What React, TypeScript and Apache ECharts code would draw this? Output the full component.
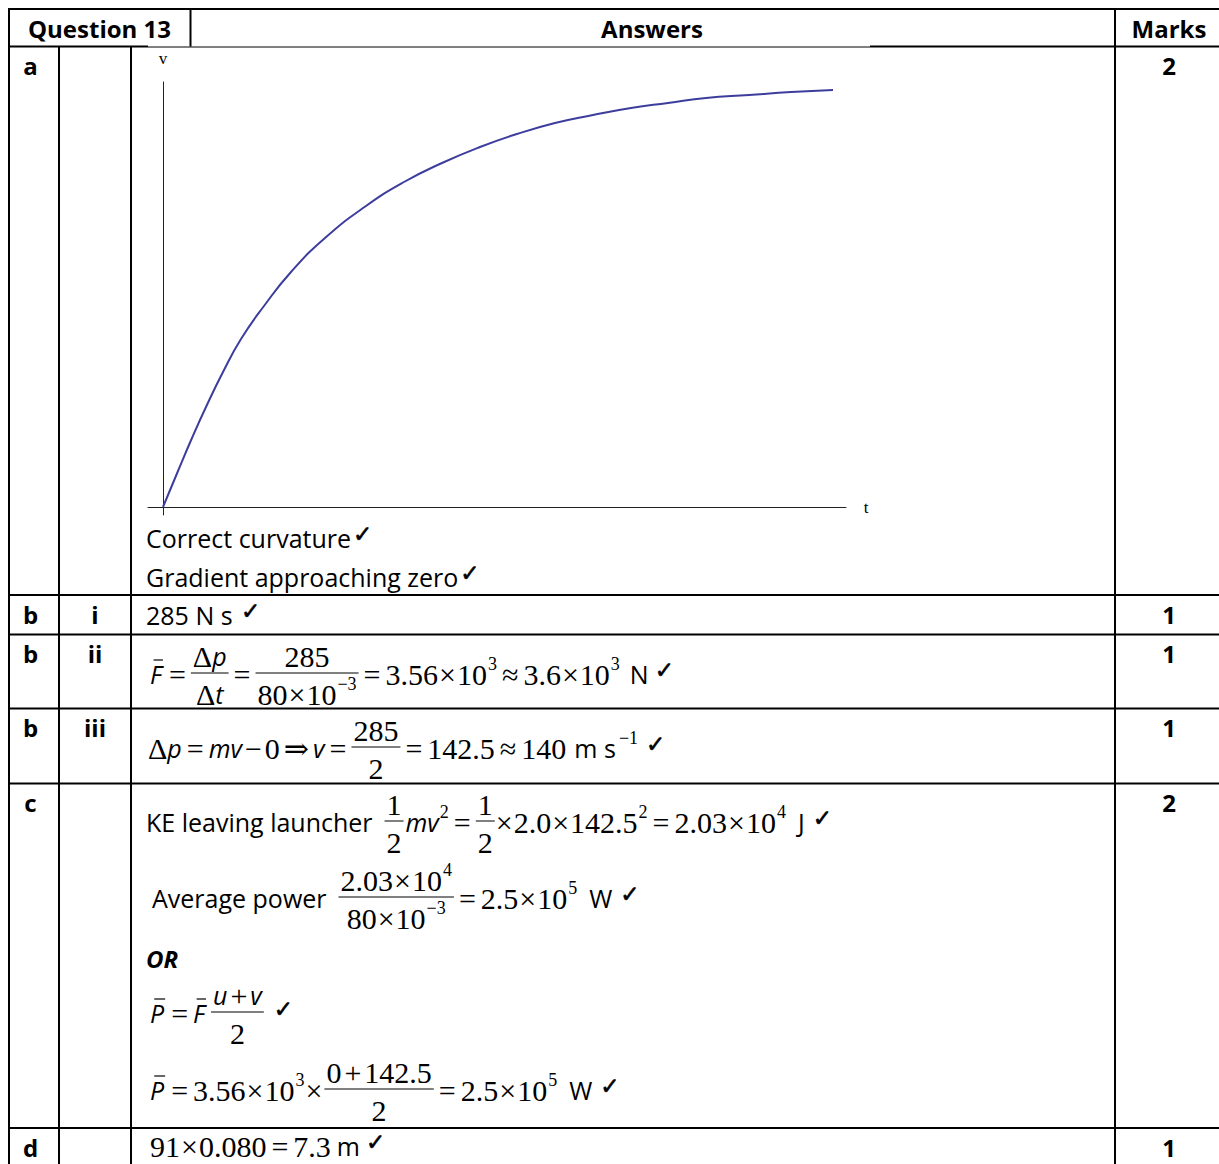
import React, { useEffect, useRef } from "react";
import * as echarts from "echarts";

// ---- data: v–t sketch ----
const tValues = [0, 1.5, 2.9, 4.3, 6.0, 7.8, 10.1, 12.8, 16.2, 20.3, 24.1, 27.9, 31.7, 35.4, 39.2, 43.0, 46.8, 50.5, 54.3, 58.6, 62.8, 67.0];
const vValues = [0, 3.6, 6.9, 10.0, 13.5, 16.8, 20.1, 23.5, 26.9, 30.1, 32.5, 34.4, 36.0, 37.3, 38.4, 39.2, 39.9, 40.4, 40.9, 41.2, 41.5, 41.7];
const axisNames = ["t", "v"];

// ---- table texts ----
const headers = ["Question 13", "Answers", "Marks"];
const partLabels = ["a", "b", "b", "b", "c", "d"];
const subLabels = ["", "i", "ii", "iii", "", ""];
const marks = ["2", "1", "1", "1", "2", "1"];
const rowTops = [46.5, 595, 634.5, 708.5, 783.5, 1128];
const plainLines = ["Correct curvature", "Gradient approaching zero", "285 N s "];

const SERIF = "'Liberation Serif','DejaVu Serif',serif";
const SANS = "'Open Sans',Lato,sans-serif";
const CHK = "'DejaVu Sans'";
const MS = 30;
const SUPS = 18;
const TS = 25;
const HS = 24;

type Tok =
  | { kind: "txt"; text: string; font: string; dy: number; gap: number; bar?: boolean; heavy?: boolean }
  | { kind: "frac"; num: Tok[]; den: Tok[]; gap: number; pad: number };

let ctx: CanvasRenderingContext2D | null = null;
function measure(text: string, font: string) {
  if (!ctx) ctx = document.createElement("canvas").getContext("2d");
  ctx!.font = font;
  return ctx!.measureText(text).width;
}

const SF = `${MS}px ${SERIF}`;
const OPS: Record<string, number> = { "=": 5, "≈": 5, "⇒": 4, "+": 3, "−": 3, "×": 1 };
// serif math run; operators get a little space around them
function S(text: string, gap = 0): Tok[] {
  const out: Tok[] = [];
  let buf = "";
  let bufGap = gap;
  const flush = () => {
    if (buf) out.push({ kind: "txt", text: buf, font: SF, dy: 0, gap: bufGap });
    buf = "";
  };
  for (const ch of text) {
    if (ch in OPS) {
      const g = OPS[ch];
      flush();
      out.push({ kind: "txt", text: ch, font: SF, dy: 0, gap: (out.length === 0 ? gap : 0) + g });
      bufGap = g;
    } else {
      if (!buf && out.length === 0) bufGap = gap;
      buf += ch;
    }
  }
  flush();
  return out;
}
const it = (text: string, gap = 0, bar = false): Tok => ({ kind: "txt", text, font: `italic ${TS}px ${SANS}`, dy: 0, gap, bar });
const tx = (text: string, gap = 0): Tok => ({ kind: "txt", text, font: `${TS}px ${SANS}`, dy: 0, gap });
const sup = (text: string, gap = 1): Tok => ({ kind: "txt", text, font: `${SUPS}px ${SERIF}`, dy: -10, gap });
const chk = (gap = 6): Tok => ({ kind: "txt", text: "✓", font: `23px ${CHK}`, dy: -4, gap, heavy: true });
const fr = (num: Tok[], den: Tok[], gap = 5, pad = 2): Tok => ({ kind: "frac", num, den, gap, pad });

function seqW(toks: Tok[]): number {
  return toks.reduce((a, t) => a + t.gap + tokW(t), 0);
}
function tokW(t: Tok): number {
  if (t.kind === "txt") return measure(t.text, t.font);
  return Math.max(seqW(t.num), seqW(t.den)) + 2 * t.pad;
}

function txtEl(text: string, x: number, y: number, font: string, align = "left", heavy = false) {
  const style: any = { text, font, fill: "#000", align, textAlign: align, verticalAlign: "middle", textVerticalAlign: "middle" };
  if (heavy) {
    style.stroke = "#000";
    style.lineWidth = 0.6;
  }
  return { type: "text", x, y, style };
}
function lineEl(x1: number, y1: number, x2: number, y2: number, w = 2, color = "#000") {
  return { type: "line", shape: { x1, y1, x2, y2 }, style: { stroke: color, lineWidth: w } };
}

function place(toks: Tok[], x0: number, y: number, out: any[]): number {
  let x = x0;
  for (const t of toks) {
    x += t.gap;
    const w = tokW(t);
    if (t.kind === "txt") {
      out.push(txtEl(t.text, x, y + t.dy, t.font, "left", !!t.heavy));
      if (t.bar) out.push(lineEl(x + w * 0.3, y - 14, x + w + 1, y - 14, 1.2));
    } else {
      const by = y - 1;
      out.push(lineEl(x, by, x + w, by, 1));
      place(t.num, x + (w - seqW(t.num)) / 2, by - 17, out);
      place(t.den, x + (w - seqW(t.den)) / 2, by + 21, out);
    }
    x += w;
  }
  return x;
}

const formulas: { x: number; y: number; toks: Tok[] }[] = [
  {
    x: 150, y: 674,
    toks: [it("F", 0, true), ...S("=", 2), fr([...S("Δ"), it("p")], [...S("Δ"), it("t")]), ...S("="),
      fr([...S("285")], [...S("80×10"), sup("−3")]), ...S("=3.56×10"), sup("3"), ...S("≈3.6×10"), sup("3"), tx("N", 10), chk(6)],
  },
  {
    x: 148, y: 748,
    toks: [...S("Δ"), it("p"), ...S("="), it("mv", 5), ...S("−0"), ...S("⇒"), it("v", 4), ...S("="),
      fr([...S("285")], [...S("2")]), ...S("=142.5≈140"), tx("m s", 8), sup("−1", 3), chk(8)],
  },
  {
    x: 146, y: 822,
    toks: [tx("KE leaving launcher"), fr([...S("1")], [...S("2")], 12), it("mv", 2), sup("2"), ...S("="),
      fr([...S("1")], [...S("2")]), ...S("×2.0×142.5"), sup("2"), ...S("=2.03×10"), sup("4"), tx("J", 12), chk(8)],
  },
  {
    x: 152, y: 898,
    toks: [tx("Average power"), fr([...S("2.03×10"), sup("4")], [...S("80×10"), sup("−3")], 12), ...S("=2.5×10"), sup("5"), tx("W", 12), chk(8)],
  },
  {
    x: 146, y: 958,
    toks: [{ kind: "txt", text: "OR", font: `italic bold ${HS}px ${SANS}`, dy: 0, gap: 0 }],
  },
  {
    x: 150, y: 1013,
    toks: [it("P", 0, true), ...S("=", 2), it("F", 5, true), fr([it("u"), ...S("+"), it("v", 3)], [...S("2")], 6), chk(10)],
  },
  {
    x: 150, y: 1090,
    toks: [it("P", 0, true), ...S("=3.56×10", 2), sup("3"), ...S("×"), fr([...S("0+142.5")], [...S("2")], 2), ...S("=2.5×10"), sup("5"), tx("W", 12), chk(8)],
  },
  {
    x: 150, y: 1146,
    toks: [...S("91×0.080=7.3"), tx("m", 6), chk(6)],
  },
];

function buildGraphics() {
  const g: any[] = [];
  const B = 2;
  // horizontal lines
  g.push(lineEl(8, 9, 1219, 9, B));
  g.push(lineEl(8, 46.5, 148, 46.5, B));
  g.push(lineEl(148, 47, 870, 47, 1));
  g.push(lineEl(870, 46.5, 1219, 46.5, B));
  for (const y of rowTops.slice(1)) g.push(lineEl(8, y, 1219, y, B));
  // vertical lines
  g.push(lineEl(9, 8, 9, 1164, B));
  g.push(lineEl(190.5, 8, 190.5, 46.5, B));
  g.push(lineEl(59, 46.5, 59, 1164, B));
  g.push(lineEl(131, 46.5, 131, 1164, B));
  g.push(lineEl(1115, 8, 1115, 1164, B));

  const HB = `bold ${HS}px ${SANS}`;
  g.push(txtEl(headers[0], 99.5, 28, HB, "center"));
  g.push(txtEl(headers[1], 652, 28, HB, "center"));
  g.push(txtEl(headers[2], 1169, 28, HB, "center"));

  rowTops.forEach((top, i) => {
    const y = top + 19;
    g.push(txtEl(partLabels[i], 30.5, y, HB, "center"));
    if (subLabels[i]) g.push(txtEl(subLabels[i], 95, y, HB, "center"));
    g.push(txtEl(marks[i], 1169, y, HB, "center"));
  });

  // axis labels of the sketch
  g.push(txtEl(axisNames[1], 163, 58, `17px ${SERIF}`, "center"));
  g.push(txtEl(axisNames[0], 866, 507, `17px ${SERIF}`, "center"));

  // plain text lines
  place([tx(plainLines[0]), chk(2)], 146, 538, g);
  place([tx(plainLines[1]), chk(2)], 146, 577, g);
  place([tx(plainLines[2]), chk(2)], 146, 615, g);

  for (const f of formulas) place(f.toks, f.x, f.y, g);
  return g;
}

export default function App() {
  const ref = useRef<HTMLDivElement>(null);
  useEffect(() => {
    if (!ref.current) return;
    const chart = echarts.init(ref.current, null, { renderer: "svg" });
    const data = tValues.map((t, i) => [t, vValues[i]]);
    chart.setOption({
      animation: false,
      backgroundColor: "#fff",
      grid: { left: 148, top: 82, width: 698, height: 433 },
      xAxis: {
        type: "value", min: -1.5, max: 68.3,
        axisLine: { show: true, onZero: true, lineStyle: { color: "#222", width: 1 } },
        axisTick: { show: false }, axisLabel: { show: false }, splitLine: { show: false },
      },
      yAxis: {
        type: "value", min: -0.8, max: 42.5,
        axisLine: { show: true, onZero: true, lineStyle: { color: "#222", width: 1 } },
        axisTick: { show: false }, axisLabel: { show: false }, splitLine: { show: false },
      },
      series: [
        {
          type: "line", data, smooth: 0.5, showSymbol: false,
          lineStyle: { color: "#3d3d9e", width: 2 },
        },
      ],
      graphic: { elements: buildGraphics() },
    });
    return () => chart.dispose();
  }, []);
  return (
    <div
      ref={ref}
      style={{ position: "absolute", left: 0, top: 0, width: 1219, height: 1164, background: "#fff" }}
    />
  );
}
